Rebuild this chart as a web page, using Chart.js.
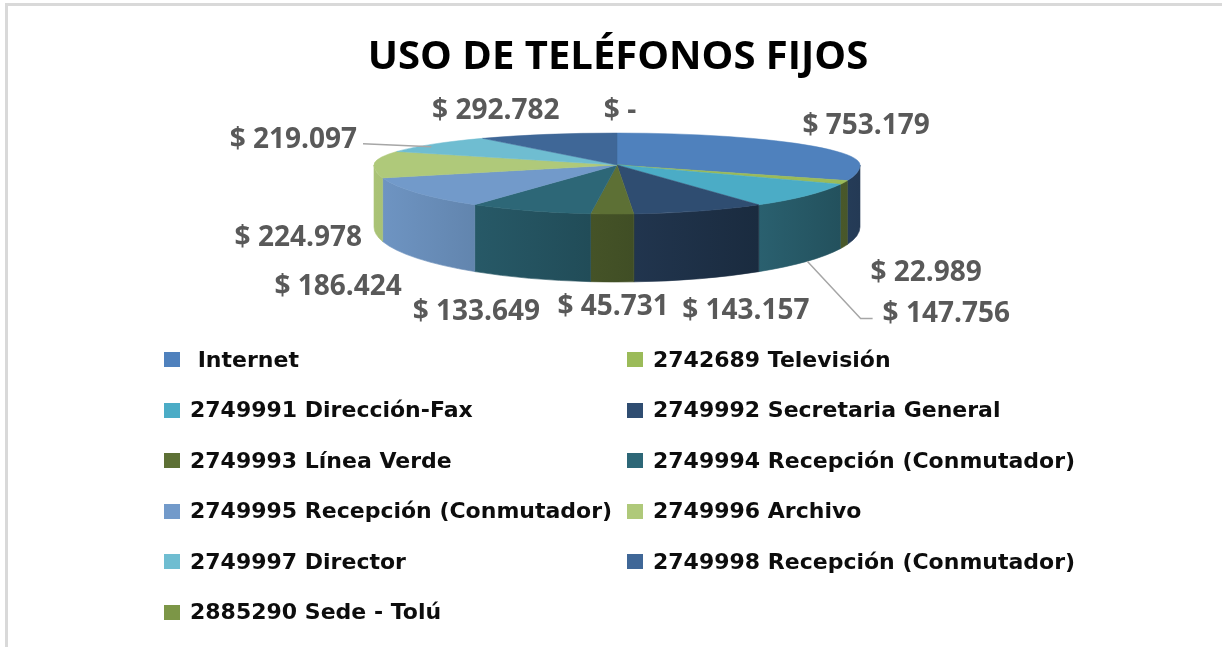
<!DOCTYPE html>
<html>
<head>
<meta charset="utf-8">
<script src="https://cdn.jsdelivr.net/npm/chart.js@4.4.1/dist/chart.umd.min.js"></script>
<style>
html,body{margin:0;padding:0;background:#fff;width:1222px;height:647px;overflow:hidden;position:relative;}
#frame{position:absolute;left:5px;top:3px;width:1300px;height:700px;border-left:3px solid #d9d9d9;border-top:3px solid #d9d9d9;}
#c{position:absolute;left:0;top:0;}
#legend{position:absolute;left:0;top:0;font-family:"DejaVu Sans",sans-serif;font-weight:bold;font-size:22px;color:#0d0d0d;}
.item{position:absolute;height:28px;line-height:28px;white-space:pre;}
.sw{position:absolute;width:16px;height:15px;}
</style>
</head>
<body>
<div id="frame"></div>
<canvas id="c" width="1222" height="647"></canvas>
<div id="legend"></div>
<script>
// ---- data ----
const title = 'USO DE TELÉFONOS FIJOS';
const categories = [
  ' Internet',
  '2742689 Televisión',
  '2749991 Dirección-Fax',
  '2749992 Secretaria General',
  '2749993 Línea Verde',
  '2749994 Recepción (Conmutador)',
  '2749995 Recepción (Conmutador)',
  '2749996 Archivo',
  '2749997 Director',
  '2749998 Recepción (Conmutador)',
  '2885290 Sede - Tolú'
];
const values = [753179, 22989, 147756, 143157, 45731, 133649, 186424, 224978, 219097, 292782, 0];
const colors = ['#4F81BD', '#9BBB59', '#4BACC6', '#2F4D71', '#5D7035', '#2D6777',
                '#729ACA', '#AFC97A', '#6FBDD1', '#3F6797', '#7C9647'];

// ---- layout (not data) ----
const GEO = {cx: 617, cy: 165, rx: 243, ryBack: 32, ryFront: 49, depth: 62, depthFront: 6, warpDeg: 20};
const labelNudge = [[78,-18],[82,89],[139,117],[46,98],[1,91],[-53,99],[-78,92],[-77,74],[-142,-6],[-54,-25],[3,-24]];
const leaderType = {2: 'elbow', 8: 'straight'};

function warp(t){ return t - GEO.warpDeg*Math.PI/180*Math.cos(t); }
function shade(hex, f){
  const n = parseInt(hex.slice(1),16);
  const r = Math.round(((n>>16)&255)*f), g = Math.round(((n>>8)&255)*f), b = Math.round((n&255)*f);
  return 'rgb('+r+','+g+','+b+')';
}
function shadeAt(x){ return Math.max(0.4, Math.min(0.97, 0.97 - 0.52*(x-375)/485)); }
function fmt(v){ return v === 0 ? '$ -' : '$ ' + String(v).replace(/\B(?=(\d{3})+(?!\d))/g, '.'); }

const pie3d = {
  id: 'pie3d',
  beforeDatasetsDraw(chart){
    const ctx = chart.ctx;
    const arcs = chart.getDatasetMeta(0).data;
    const {cx, cy, rx, ryBack, ryFront, depth, depthFront} = GEO;
    const ryBot = ryFront + depthFront;
    // side walls (front half only)
    arcs.forEach((arc) => {
      const a = Math.max(warp(arc.startAngle), 0), b = Math.min(warp(arc.endAngle), Math.PI);
      if (b <= a) return;
      const xa = cx + rx*Math.cos(a), xb = cx + rx*Math.cos(b);
      const xl = Math.min(xa, xb), xr = Math.max(xa, xb);
      const base = arc.options.backgroundColor;
      const g = ctx.createLinearGradient(xl, 0, xr + 0.01, 0);
      g.addColorStop(0, shade(base, shadeAt(xl)));
      g.addColorStop(1, shade(base, shadeAt(xr)));
      ctx.save();
      ctx.beginPath();
      ctx.ellipse(cx, cy, rx, ryFront, 0, a, b, false);
      ctx.ellipse(cx, cy + depth, rx, ryBot, 0, b, a, true);
      ctx.closePath();
      ctx.fillStyle = g; ctx.fill();
      ctx.strokeStyle = g; ctx.lineWidth = 0.6; ctx.stroke();
      ctx.restore();
    });
    // top face: library arcs drawn into the tilted plane (back & front halves)
    const R = arcs[0].outerRadius, ox = arcs[0].x, oy = arcs[0].y;
    [[ryBack, -1], [ryFront, 1]].forEach(([ry, side]) => {
      ctx.save();
      ctx.beginPath();
      if (side < 0) ctx.rect(0, 0, chart.width, cy + 1); else ctx.rect(0, cy, chart.width, chart.height);
      ctx.clip();
      ctx.translate(cx, cy); ctx.scale(rx/R, ry/R); ctx.translate(-ox, -oy);
      arcs.forEach(arc => {
        const p = Object.create(arc);
        p.startAngle = warp(arc.startAngle);
        p.endAngle = warp(arc.endAngle);
        p.circumference = p.endAngle - p.startAngle;
        p.draw(ctx);
      });
      ctx.restore();
    });
    return false;
  },
  afterDraw(chart){
    const ctx = chart.ctx;
    const arcs = chart.getDatasetMeta(0).data;
    const {cx, cy, rx, ryBack, ryFront, depth, depthFront} = GEO;
    ctx.save();
    ctx.font = 'bold 28px "Open Sans"';
    arcs.forEach((arc, i) => {
      const mid = warp((arc.startAngle + arc.endAngle)/2);
      const s = Math.sin(mid);
      const ax = cx + rx*Math.cos(mid), ay = cy + (s < 0 ? ryBack : ryFront)*s;
      const lx = ax + labelNudge[i][0], ly = ay + labelNudge[i][1];
      const text = fmt(values[i]);
      const w = ctx.measureText(text).width;
      ctx.strokeStyle = '#a6a6a6'; ctx.lineWidth = 1.5;
      if (leaderType[i] === 'straight') {
        ctx.beginPath();
        ctx.moveTo(lx + w/2 + 6, ly + 6);
        ctx.lineTo(ax - 4, ay + 3);
        ctx.stroke();
      } else if (leaderType[i] === 'elbow') {
        const by = cy + depth + (ryFront + depthFront)*s;
        ctx.beginPath();
        ctx.moveTo(ax, by);
        ctx.lineTo(lx - w/2 - 22, ly + 6);
        ctx.lineTo(lx - w/2 - 10, ly + 6);
        ctx.stroke();
      }
      ctx.fillStyle = '#595959';
      ctx.textAlign = 'center';
      ctx.textBaseline = 'alphabetic';
      ctx.fillText(text, lx, ly + 10);
    });
    ctx.restore();
  }
};

new Chart(document.getElementById('c'), {
  type: 'pie',
  data: {
    labels: categories,
    datasets: [{ data: values, backgroundColor: colors, borderColor: colors, borderWidth: 1 }]
  },
  options: {
    responsive: false,
    animation: false,
    events: [],
    layout: { padding: { left: 14 } },
    plugins: {
      legend: { display: false },
      tooltip: { enabled: false },
      title: {
        display: true,
        text: title,
        color: '#000',
        font: { family: '"Open Sans"', size: 40, weight: 'bold' },
        padding: { top: 34, bottom: 10 }
      }
    }
  },
  plugins: [pie3d]
});

// legend (two columns, built from the same arrays)
const leg = document.getElementById('legend');
categories.forEach((c, i) => {
  const col = i % 2, row = Math.floor(i / 2);
  const yc = 359.5 + row*50.5;
  const swx = col === 0 ? 164 : 627;
  const sw = document.createElement('div');
  sw.className = 'sw';
  sw.style.left = swx + 'px'; sw.style.top = (yc - 7.5) + 'px';
  sw.style.background = colors[i];
  leg.appendChild(sw);
  const t = document.createElement('div');
  t.className = 'item';
  t.style.left = (swx + 26) + 'px'; t.style.top = (yc - 14) + 'px';
  t.textContent = c;
  leg.appendChild(t);
});
</script>
</body>
</html>
